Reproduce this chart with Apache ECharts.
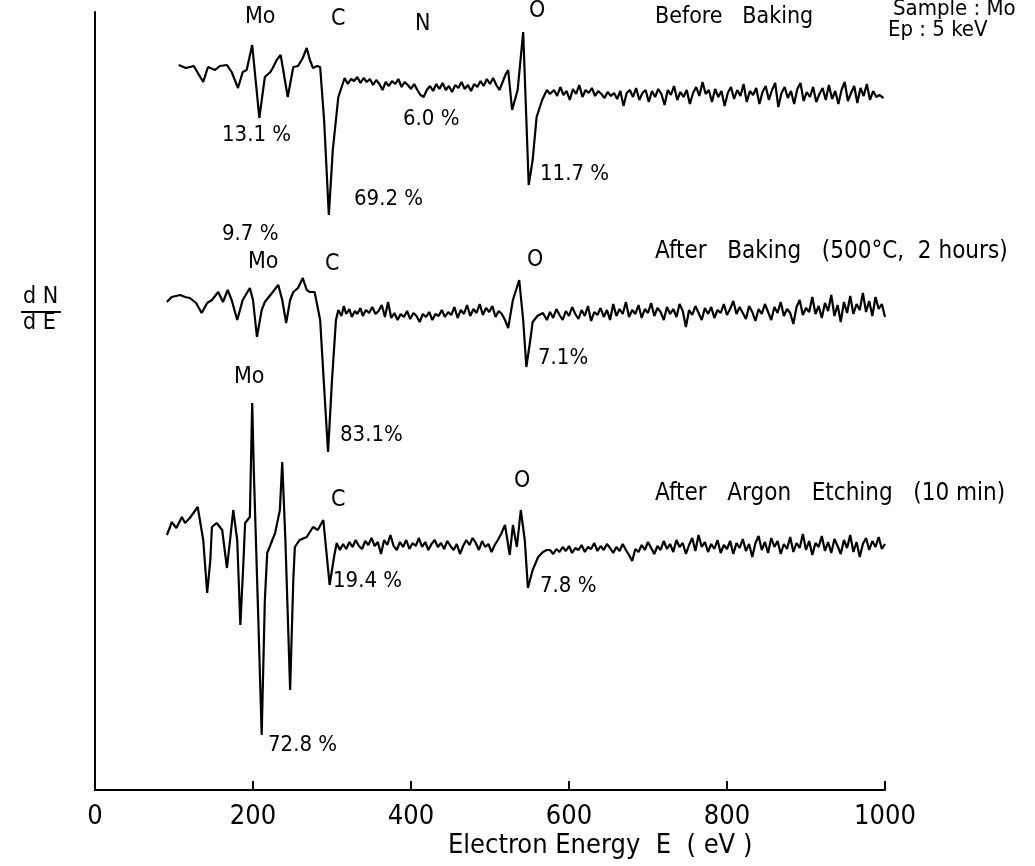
<!DOCTYPE html>
<html>
<head>
<meta charset="utf-8">
<script src="https://cdn.jsdelivr.net/npm/echarts@6/dist/echarts.min.js"></script>
<style>html,body{margin:0;padding:0;background:#fff}#c{width:1035px;height:866px}</style>
</head>
<body>
<div id="c"></div>
<script>
// x: electron energy (eV); y: dN/dE in arbitrary units (spectra stacked)
const xTicks = [0, 200, 400, 600, 800, 1000];

const beforeBaking = [
[106,725],[115,722],[125,724],[137,708],[143,723],[152,720],[158,724],[167,725],[173,718],[181,702],[187,718],[192,720],[199,745],[208,672],[215,713],[222,718],[225,722],[230,730],[235,735],[244,693],[251,723],[257,724],[263,732],[268,742],[272,730],[276,722],[281,724],[285,723],[290,670],[296,575],[301,640],[308,693],
[316,712],[320,706],[324,711],[328,709],[332,713],[336,707],[340,712],[344,708],[348,711],[352,705],[356,710],[360,706],[364,700],[368,708],[372,704],[376,709],[380,706],[384,711],[388,703],[392,708],[396,705],[400,701],[404,706],[408,700],[412,695],[416,693],[420,700],[424,704],[428,699],[432,706],[436,701],[440,707],[444,700],[448,704],[452,698],[456,705],[460,702],[464,708],[468,701],[472,705],[476,699],[480,706],[484,703],[488,709],[492,704],[496,711],[500,706],[504,712],[508,705],[512,700],[516,708],[520,716],[523,720],[528,680],[535,700],[542,758],[549,605],[554,630],[559,673],[566,690],[572,700],
[576,696],[581,700],[585,694],[589,703],[593,695],[597,699],[601,690],[605,701],[609,696],[613,705],[617,693],[621,700],[625,697],[629,702],[633,694],[637,699],[641,696],[645,692],[649,698],[653,694],[657,697],[661,691],[665,699],[669,684],[673,697],[677,700],[681,693],[685,702],[689,690],[693,697],[697,700],[701,688],[705,699],[709,693],[713,701],[717,696],[721,685],[725,700],[729,695],[733,704],[737,690],[741,698],[745,693],[749,700],[753,686],[757,697],[761,703],[765,694],[769,708],[773,696],[777,700],[781,688],[785,701],[789,693],[793,699],[797,684],[801,697],[805,703],[809,691],[813,700],[817,694],[821,706],[825,688],[829,699],[833,695],[837,702],[841,686],[845,698],[849,704],[853,690],[857,700],[861,707],[865,683],[869,697],[873,703],[877,692],[881,699],[885,686],[889,701],[893,707],[897,689],[901,698],[905,693],[909,703],[913,688],[917,696],[921,702],[925,690],[929,705],[933,691],[937,699],[941,686],[945,700],[949,708],[953,689],[957,697],[961,704],[965,687],[969,702],[973,694],[977,706],[981,690],[985,699],[989,693],[993,695],[998,692]
];

const afterBaking = [
[91,488],[97,493],[108,495],[114,493],[120,492],[128,487],[135,477],[142,487],[148,490],[156,498],[162,488],[168,500],[173,490],[180,470],[187,490],[196,502],[200,490],[205,453],[211,480],[215,488],[222,495],[232,505],[237,490],[242,467],[247,490],[251,498],[257,502],[263,512],[268,500],[272,498],[278,498],[285,470],[291,390],[295,338],[300,410],[305,470],
[308,480],[312,474],[315,484],[318,476],[322,481],[325,473],[329,479],[332,476],[336,482],[339,474],[343,480],[347,477],[351,483],[355,476],[359,479],[363,485],[367,473],[371,488],[375,472],[379,477],[383,470],[387,476],[391,473],[395,479],[399,471],[403,477],[407,474],[411,468],[415,476],[419,473],[423,478],[427,470],[431,476],[435,474],[439,480],[443,473],[447,478],[451,475],[455,483],[459,472],[463,480],[467,476],[471,485],[475,474],[479,481],[483,477],[487,486],[491,475],[495,482],[499,478],[503,484],[507,473],[511,479],[515,476],[519,470],[523,462],[529,490],[537,510],[542,470],[546,423],[551,450],[554,468],[560,474],[567,477],
[572,470],[576,478],[580,472],[584,481],[588,475],[592,470],[596,479],[600,474],[604,483],[608,476],[612,471],[616,480],[620,474],[624,484],[628,469],[632,478],[636,475],[640,482],[644,473],[648,480],[652,470],[656,486],[660,474],[664,481],[668,476],[672,488],[676,473],[680,480],[684,476],[688,485],[692,472],[696,481],[700,477],[704,487],[708,474],[712,482],[716,478],[720,470],[724,483],[728,476],[732,481],[736,473],[740,486],[744,479],[748,463],[752,480],[756,475],[760,484],[764,477],[768,470],[772,482],[776,476],[780,483],[784,472],[788,480],[792,477],[796,486],[800,475],[804,481],[808,489],[812,476],[816,483],[820,477],[824,471],[828,484],[832,478],[836,469],[840,481],[844,476],[848,486],[852,478],[856,470],[860,483],[864,477],[868,488],[872,474],[876,481],[880,477],[884,466],[888,483],[892,490],[896,475],[900,482],[904,478],[908,493],[912,476],[916,484],[920,472],[924,487],[928,479],[932,495],[936,474],[940,485],[944,468],[948,488],[952,477],[956,494],[960,476],[964,486],[968,480],[972,497],[976,478],[980,489],[984,474],[988,493],[992,481],[996,486],[1000,473]
];

const afterEtching = [
[91,255],[95,263],[97,268],[103,262],[110,273],[114,267],[120,272],[130,283],[137,250],[142,197],[146,230],[148,263],[154,267],[161,260],[167,222],[171,250],[175,280],[180,250],[184,165],[188,230],[190,267],[196,273],[199,387],[201,320],[206,190],[211,55],[215,190],[218,237],[228,257],[234,280],[237,328],[241,250],[247,100],[251,210],[253,243],[259,250],[268,253],[276,263],[282,260],[289,270],[297,205],[303,235],
[306,247],[310,240],[314,246],[318,241],[322,248],[326,243],[330,250],[334,244],[338,241],[342,249],[346,245],[350,252],[354,244],[358,248],[362,236],[366,250],[370,245],[374,255],[378,244],[382,240],[386,248],[390,243],[394,250],[398,241],[402,247],[406,244],[410,252],[414,243],[418,248],[422,240],[426,246],[430,250],[434,243],[438,247],[442,241],[446,249],[450,244],[454,240],[458,246],[462,236],[466,244],[470,250],[474,245],[478,252],[482,247],[486,240],[490,249],[494,243],[498,246],[502,238],[506,245],[510,250],[514,256],[519,265],[525,235],[529,265],[534,243],[539,280],[544,250],[548,202],[554,220],[561,233],[567,238],[572,240],
[576,240],[580,236],[584,241],[588,238],[592,243],[596,239],[600,244],[604,237],[608,242],[612,240],[616,245],[620,238],[624,243],[628,241],[632,247],[636,239],[640,244],[644,240],[648,246],[652,242],[656,237],[660,243],[664,239],[668,246],[672,240],[676,235],[680,229],[684,241],[688,238],[692,245],[696,240],[700,248],[704,242],[708,236],[712,244],[716,240],[720,249],[724,241],[728,246],[732,238],[736,250],[740,243],[744,247],[748,236],[752,245],[756,252],[760,239],[764,255],[768,243],[772,248],[776,238],[780,246],[784,241],[788,250],[792,237],[796,245],[800,241],[804,249],[808,236],[812,247],[816,242],[820,251],[824,239],[828,246],[832,233],[836,247],[840,254],[844,240],[848,248],[852,237],[856,252],[860,243],[864,249],[868,236],[872,246],[876,241],[880,253],[884,238],[888,247],[892,242],[896,256],[900,240],[904,249],[908,235],[912,247],[916,243],[920,254],[924,239],[928,248],[932,237],[936,251],[940,244],[944,236],[948,250],[952,242],[956,255],[960,238],[964,248],[968,233],[972,246],[976,252],[980,240],[984,249],[988,243],[992,253],[996,241],[1000,246]
];

// text annotations: [text, left px, center y px, font size]
const labels = [
  ['Mo',245,20,23],['C',331,22,23],['N',415,27,23],['O',529,14,23],
  ['Before   Baking',655,20,23],['Sample : Mo',893,11,22],['Ep : 5 keV',888,32,22],
  ['13.1 %',222,137,22],['6.0 %',403,121,22],['69.2 %',354,201,22],['11.7 %',540,176,22],
  ['9.7 %',222,236,22],['Mo',248,265,23],['C',325,267,23],['O',527,263,23],
  ['After   Baking   (500°C,  2 hours)',655,254,24],
  ['7.1%',538,360,22],['83.1%',340,437,22],
  ['Mo',234,380,23],['C',331,503,23],['O',514,484,23],
  ['After   Argon   Etching   (10 min)',655,496,24],
  ['19.4 %',333,583,22],['7.8 %',540,588,22],['72.8 %',268,747,22]
];

const FONT = "'Liberation Sans Narrow','DejaVu Sans Condensed','Liberation Sans',sans-serif";
const chart = echarts.init(document.getElementById('c'), null, {renderer:'canvas'});

const mkSeries = (name, d) => ({
  name, type:'line', data:d, showSymbol:false, symbol:'none', smooth:false,
  lineStyle:{color:'#000', width:2.2}, animation:false, z:3
});

const graphics = labels.map(l => ({
  type:'text', left:l[1], top:l[2]-Math.round(l[3]*0.6),
  style:{text:l[0], fill:'#000', font:l[3] + 'px ' + FONT}
}));
graphics.push(
  {type:'text', left:23, top:286, style:{text:'d N', fill:'#000', font:'23px ' + FONT}},
  {type:'line', shape:{x1:21, y1:312, x2:61, y2:312}, style:{stroke:'#000', lineWidth:2}},
  {type:'text', left:23, top:312, style:{text:'d E', fill:'#000', font:'23px ' + FONT}},
  {type:'text', left:448, top:832, style:{text:'Electron Energy  E  ( eV )', fill:'#000', font:'27px ' + FONT}}
);

chart.setOption({
  backgroundColor:'#fff',
  animation:false,
  grid:{left:95, right:150, top:12, bottom:76},
  xAxis:{
    type:'value', min:xTicks[0], max:xTicks[xTicks.length-1], interval:200,
    axisLine:{show:true, lineStyle:{color:'#000', width:2}},
    axisTick:{show:true, inside:true, length:9, lineStyle:{color:'#000', width:2}},
    axisLabel:{color:'#000', fontSize:27, fontFamily:FONT, margin:13, formatter:v => String(v)},
    splitLine:{show:false}
  },
  yAxis:{
    type:'value', min:0, max:778,
    axisLine:{show:true, lineStyle:{color:'#000', width:2}},
    axisTick:{show:false}, axisLabel:{show:false}, splitLine:{show:false}
  },
  series:[
    mkSeries('Before Baking', beforeBaking),
    mkSeries('After Baking', afterBaking),
    mkSeries('After Argon Etching', afterEtching)
  ],
  graphic:graphics
});
</script>
</body>
</html>
